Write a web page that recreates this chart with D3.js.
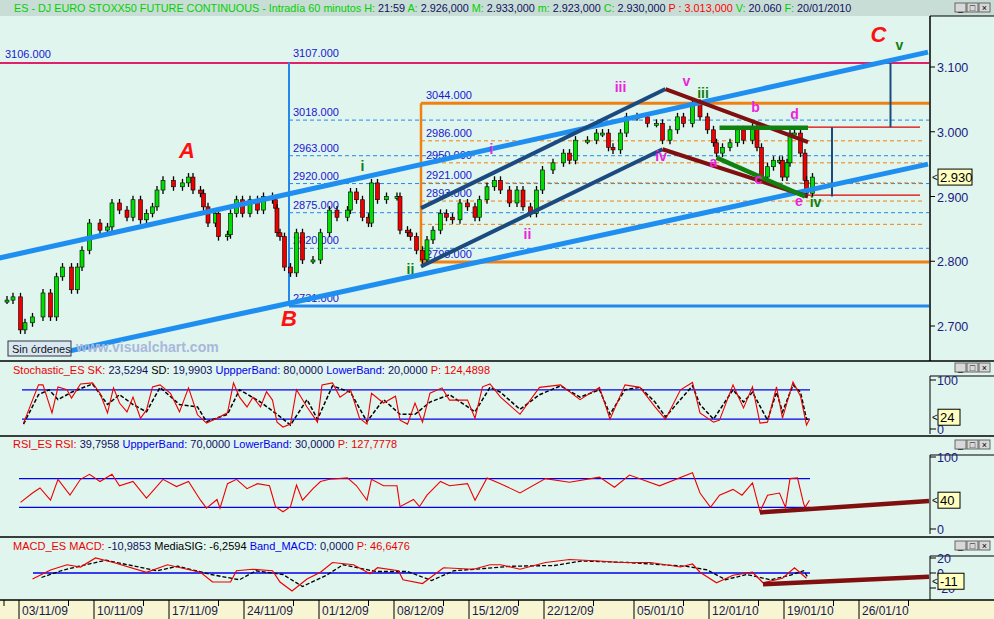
<!DOCTYPE html>
<html><head><meta charset="utf-8">
<script src="https://cdn.jsdelivr.net/npm/d3@7/dist/d3.min.js"></script>
<style>body{margin:0;background:#e0f5ee}svg{display:block;font-family:"Liberation Sans",Arial,sans-serif}</style>
</head><body><svg id="c" width="994" height="619"></svg>
<script>
// ---- data (time in trading days from 03/11/09) ----
const barDay=[-0.8,-0.4,0.1,0.4,0.9,1.6,2.1,2.5,2.9,3.5,3.9,4.2,4.7,5.4,5.9,6.2,6.7,7.2,7.6,8.1,8.5,8.9,9.2,9.6,10.3,10.9,11.3,11.6,12.1,12.3,12.6,13.1,13.3,13.9,14.1,14.5,14.9,15.4,15.9,16.3,16.9,17.1,17.2,17.4,17.7,18.1,18.5,18.9,19.6,20.1,20.7,21.2,21.9,22.1,22.5,22.9,23.3,23.5,23.9,24.5,25.2,25.4,25.9,26.1,26.5,26.9,27.2,27.6,28.1,28.5,28.9,29.4,29.9,30.4,30.7,31.2,31.7,32.1,32.7,33.2,33.6,34.1,34.5,34.9,35.6,36.3,36.7,37.1,37.9,38.5,38.9,39.3,39.6,40.1,40.5,41.2,41.9,42.5,42.9,43.4,43.9,44.3,44.9,45.4,45.9,46.3,46.5,46.9,47.4,47.9,48.3,48.9,49.2,49.5,49.9,50.3,50.7,50.9,51.2,51.4,51.7,52.1,52.4,52.5,52.9];
const barClose=[2740,2745,2694,2705,2714,2751,2714,2776,2791,2756,2791,2817,2859,2848,2853,2890,2879,2868,2895,2864,2874,2884,2910,2925,2915,2921,2930,2910,2905,2884,2859,2874,2838,2841,2874,2895,2874,2895,2879,2900,2895,2882,2844,2838,2791,2782,2844,2802,2802,2844,2879,2868,2879,2907,2895,2868,2859,2921,2895,2900,2900,2848,2844,2838,2817,2802,2833,2848,2874,2868,2864,2890,2884,2868,2895,2915,2925,2910,2890,2910,2884,2874,2910,2941,2952,2967,2956,2987,2987,2998,2998,2976,2972,2998,3023,3023,3013,3013,2987,3003,3023,3013,3044,3023,3003,2983,2967,2976,2983,3003,2987,3007,2976,2930,2946,2956,2956,2930,2952,2998,2998,2967,2925,2905,2930];
const stochDay=[0.3,0.9,1.3,1.6,2.2,2.6,3.2,3.5,4.1,4.9,5.4,5.9,6.3,6.7,7.2,7.6,8.1,8.5,8.9,9.4,10.1,10.7,11.3,11.9,12.5,13.2,13.9,14.3,14.7,15.2,15.6,16.1,16.5,16.9,17.2,17.6,18.1,18.5,19.2,19.9,20.2,20.9,21.4,22.1,22.7,23.2,23.5,24.3,25.1,25.4,25.9,26.4,26.9,27.4,28.2,28.7,29.9,30.4,30.9,31.4,32.1,33.4,34.7,36.1,37.4,38.7,39.4,40.4,41.4,42.4,43.1,44.1,44.9,45.4,46.3,46.7,47.6,48.3,48.9,49.4,49.9,50.5,50.9,51.6,52.1,52.5,52.7];
const stochSK=[12,59,90,90,33,86,80,63,92,94,73,33,84,53,35,65,22,39,86,90,73,35,84,29,12,22,33,94,65,45,65,45,76,59,14,4,10,80,45,14,90,94,65,80,22,10,73,53,67,18,10,53,14,73,84,59,59,22,86,92,65,30,85,90,60,85,20,90,85,45,20,80,95,33,14,18,90,43,86,12,14,86,22,96,67,8,20];
const sdPts=[[0.3,10],[1.3,70],[2.0,80],[2.6,60],[3.5,75],[4.9,92],[5.9,50],[6.7,70],[7.6,50],[8.5,35],[9.4,85],[10.7,50],[11.9,45],[12.5,15],[13.9,30],[14.7,80],[16.1,55],[17.2,30],[18.1,8],[19.2,60],[19.9,20],[20.9,88],[22.1,75],[23.2,15],[24.3,60],[25.4,30],[26.4,30],[27.4,55],[28.7,70],[30.4,35],[31.4,85],[32.1,75],[33.4,40],[34.7,70],[36.1,88],[37.4,65],[38.7,80],[39.4,30],[40.4,80],[41.4,85],[42.4,55],[43.1,25],[44.9,88],[45.4,50],[46.3,20],[47.6,80],[48.3,55],[48.9,75],[49.9,18],[50.5,75],[50.9,35],[51.6,90],[52.1,75],[52.5,20],[52.7,20]];
const rsiDay=[0.1,0.9,1.4,2.1,2.6,3.4,4.1,4.7,5.4,6.2,6.7,7.6,8.5,9.6,10.5,11.3,12.1,12.5,13.2,13.4,13.9,14.5,15.2,15.9,16.7,17.1,17.6,18.1,18.5,18.9,19.6,20.1,20.7,21.9,22.5,23.2,23.5,24.3,25.2,25.4,26.3,26.7,27.2,28.1,28.7,29.9,30.4,31.2,32.1,33.4,35.1,36.7,38.7,39.7,40.7,42.7,44.9,45.4,46.1,46.7,47.6,48.2,48.9,49.4,49.9,50.7,51.1,51.4,51.9,52.3,52.4,52.7];
const rsiVal=[37,50,57,40,69,47,69,76,66,76,60,66,43,69,59,66,40,29,41,29,63,69,56,63,60,31,24,31,61,40,56,66,69,71,60,40,69,60,60,31,41,31,47,66,60,63,40,71,63,50,70,65,72,58,75,60,78,50,30,47,55,47,64,24,47,50,30,70,71,36,30,40];
const macdDay=[0.9,2.1,3.2,4.1,5.1,6.3,8.5,9.9,11.2,12.1,12.9,14.1,14.5,15.6,16.9,17.4,18.2,19.2,20.1,20.9,22.3,23.4,23.9,25.3,25.6,26.9,28.3,30.3,31.4,32.1,33.4,35.1,36.7,38.7,40.1,42.1,44.1,44.9,45.4,46.5,47.6,48.9,49.6,50.9,51.7,52.5];
const macdVal=[-8,4,11,8,20,14,1,11,5,1,-12,-12,3,5,3,-12,-24,-8,1,14,11,-1,7,3,-9,-14,7,5,11,11,5,14,18,16,14,14,8,12,1,-13,-3,1,-13,-7,7,-7];
const sigPts=[[1.5,-6],[2.8,3],[4.0,9],[5.8,17],[7.0,12],[9.2,3],[10.6,9],[12.8,-2],[14.7,-9],[15.8,3],[17.6,-2],[18.9,-18],[20.5,-3],[21.6,11],[23.8,2],[25.9,2],[27.5,-10],[29.0,3],[31.0,6],[32.8,9],[35.7,10],[37.5,16],[40.6,14],[44.5,9],[45.9,4],[47.1,-9],[48.5,-2],[50.1,-9],[51.4,-3],[52.3,3],[52.6,-6]];
const dateLabels=["03/11/09","10/11/09","17/11/09","24/11/09","01/12/09","08/12/09","15/12/09","22/12/09","05/01/10","12/01/10","19/01/10","26/01/10"];
const dateDay=[0,5,10,15,20,25,30,35,41,46,51,56];
const priceTicks=[2700,2800,2900,3000,3100];
const blueLevels=[3018,2963,2920,2875,2820];
const blueLabels=["3018.000","2963.000","2920.000","2875.000","2820.000"];
const orangeLevels=[2986,2952,2921,2893,2857];
const orangeLabels=["2986.000","2950.000","2921.000","2893.000",""];
const lightBlueLines=[[-1.3,2805,60.6,3123],[3.1,2660,60.6,2950]];
const navyLines=[[26.8,2882,43.1,3066],[26.8,2792,42.9,2973]];
const brownLines=[[43.1,3066,52.6,2984],[42.9,2973,52.6,2900]];
const greenLines=[[46.7,3006,52.6,3006],[46.5,2960,52.4,2900]];
const waveRed=[["A",11.2,2960],["B",18.0,2700],["C",57.3,3138]];
const waveGreen=[["v",58.7,3126],["i",22.9,2940],["ii",26.1,2781],["iii",45.6,3052],["iv",53.1,2884]];
const waveMag=[["iii",40.1,3061],["v",44.5,3070],["i",31.5,2966],["ii",33.9,2835],["iv",42.8,2955],["a",46.3,2945],["b",49.1,3030],["c",49.3,2920],["d",51.7,3019],["e",52.0,2885]];

const svg=d3.select("#c");
const x=d3.scaleLinear().domain([0,1]).range([19,34]);
const y=d3.scaleLinear().domain([2700,3100]).range([326,67]);
const yS=d3.scaleLinear().domain([0,100]).range([429,380]);
const yR=d3.scaleLinear().domain([0,100]).range([529,457]);
const yM=d3.scaleLinear().domain([-20,20]).range([588,558]);
const W=929;
svg.append("rect").attr("width",994).attr("height",619).attr("fill","#e0f5ee");
svg.append("rect").attr("width",994).attr("height",16).attr("fill","#c8ddd5");
svg.append("rect").attr("y",600).attr("width",994).attr("height",19).attr("fill","#f7f5d2");
const hd=svg.append("text").attr("x",14).attr("y",12).attr("font-size",10.8);
[["ES - DJ EURO STOXX50 FUTURE CONTINUOUS - Intradía 60 minutos ","#00d000"],["H: ","#00d000"],["21:59 ","#101060"],["A: ","#00d000"],["2.926,000 ","#101060"],["M: ","#00d000"],["2.933,000 ","#101060"],["m: ","#00d000"],["2.923,000 ","#101060"],["C: ","#00d000"],["2.930,000 ","#101060"],["P : 3.013,000 ","#ff0000"],["V: ","#00d000"],["20.060 ","#101060"],["F: ","#00d000"],["20/01/2010","#101060"]].forEach(t=>hd.append("tspan").attr("fill",t[1]).attr("xml:space","preserve").text(t[0]));
function btns(yy){[955,967,979].forEach((bx,i)=>{svg.append("rect").attr("x",bx).attr("y",yy).attr("width",11).attr("height",9).attr("fill","#d8d8d8").attr("stroke","#666");
 svg.append("text").attr("x",bx+5.5).attr("y",yy+8).attr("text-anchor","middle").attr("font-size",9).attr("fill","#000").text(["_","□","×"][i]);});}
btns(3);btns(363);btns(440);btns(541);
[361,436,537,600].forEach(v=>svg.append("line").attr("x1",0).attr("x2",994).attr("y1",v).attr("y2",v).attr("stroke","#000").attr("stroke-width",1.5));
svg.append("line").attr("x1",930).attr("x2",930).attr("y1",16).attr("y2",361).attr("stroke","#000").attr("stroke-width",1.5);
svg.append("line").attr("x1",930).attr("x2",994).attr("y1",16).attr("y2",16).attr("stroke","#000");
[[376,434],[455,534],[556,600]].forEach(r=>{svg.append("line").attr("x1",930).attr("x2",930).attr("y1",r[0]).attr("y2",r[1]).attr("stroke","#000");
 svg.append("line").attr("x1",930).attr("x2",994).attr("y1",r[0]).attr("y2",r[0]).attr("stroke","#000");});
priceTicks.forEach(p=>{svg.append("line").attr("x1",930).attr("x2",935).attr("y1",y(p)).attr("y2",y(p)).attr("stroke","#000");
 svg.append("text").attr("x",937).attr("y",y(p)+5).attr("font-size",12.5).attr("fill","#1a1a80").text(d3.format(".3f")(p/1000));});
svg.append("line").attr("x1",0).attr("x2",W).attr("y1",y(3106)).attr("y2",y(3106)).attr("stroke","#e0206a").attr("stroke-width",2);
svg.append("text").attr("x",5).attr("y",y(3106)-5).attr("font-size",11).attr("fill","#1818d0").text("3106.000");
const bx0=x(18.0);
svg.append("line").attr("x1",bx0).attr("x2",bx0).attr("y1",y(3107)).attr("y2",y(2731)).attr("stroke","#2288ee").attr("stroke-width",2);
svg.append("line").attr("x1",bx0).attr("x2",W).attr("y1",y(2731)).attr("y2",y(2731)).attr("stroke","#2288ee").attr("stroke-width",3);
svg.append("text").attr("x",bx0+4).attr("y",y(3107)-5).attr("font-size",11).attr("fill","#1818d0").text("3107.000");
svg.append("text").attr("x",bx0+4).attr("y",y(2731)-4).attr("font-size",11).attr("fill","#1818d0").text("2731.000");
blueLevels.forEach((p,i)=>{svg.append("line").attr("x1",bx0).attr("x2",W).attr("y1",y(p)).attr("y2",y(p)).attr("stroke","#2288ee").attr("stroke-dasharray","4,3");
 svg.append("text").attr("x",bx0+4).attr("y",y(p)-4).attr("font-size",11).attr("fill","#1818d0").text(blueLabels[i]);});
const ox0=x(26.8);
svg.append("line").attr("x1",ox0).attr("x2",ox0).attr("y1",y(3044)).attr("y2",y(2799)).attr("stroke","#f08010").attr("stroke-width",2.5);
[3044,2799].forEach((p,i)=>{svg.append("line").attr("x1",ox0).attr("x2",W).attr("y1",y(p)).attr("y2",y(p)).attr("stroke","#f08010").attr("stroke-width",3);
 svg.append("text").attr("x",ox0+5).attr("y",y(p)-4).attr("font-size",11).attr("fill","#1818d0").text(i?"2798.000":"3044.000");});
orangeLevels.forEach((p,i)=>{svg.append("line").attr("x1",ox0).attr("x2",W-5).attr("y1",y(p)).attr("y2",y(p)).attr("stroke","#f08010").attr("stroke-dasharray","4,3");
 if(orangeLabels[i])svg.append("text").attr("x",ox0+5).attr("y",y(p)-4).attr("font-size",11).attr("fill","#1818d0").text(orangeLabels[i]);});
[3007,2902].forEach(p=>svg.append("line").attr("x1",x(52.6)).attr("x2",920).attr("y1",y(p)).attr("y2",y(p)).attr("stroke","#e00000").attr("stroke-width",1.2));
svg.append("line").attr("x1",x(54.2)).attr("x2",x(54.2)).attr("y1",y(3007)).attr("y2",y(2900)).attr("stroke","#1a4a80").attr("stroke-width",2);
svg.append("line").attr("x1",x(58.1)).attr("x2",x(58.1)).attr("y1",y(3106)).attr("y2",y(3007)).attr("stroke","#1a4a80").attr("stroke-width",2);
const g=svg.append("g");
barClose.forEach((c,i)=>{const o=i?barClose[i-1]:c;const xx=x(barDay[i]);
 const hi=Math.min(y(o),y(c))-4,lo=Math.max(y(o),y(c))+4;
 g.append("line").attr("x1",xx).attr("x2",xx).attr("y1",hi).attr("y2",lo).attr("stroke","#000").attr("stroke-width",1.3);
 g.append("rect").attr("x",xx-2).attr("width",4).attr("y",Math.min(y(o),y(c))).attr("height",Math.max(2,Math.abs(y(o)-y(c)))).attr("fill",c>=o?"#00dd00":"#ee0000").attr("stroke","#000").attr("stroke-width",0.6);});
function tl(arr,col,w){arr.forEach(l=>svg.append("line").attr("x1",x(l[0])).attr("y1",y(l[1])).attr("x2",x(l[2])).attr("y2",y(l[3])).attr("stroke",col).attr("stroke-width",w));}
tl(lightBlueLines,"#1e8ef0",5);tl(navyLines,"#1a4a80",4);tl(brownLines,"#801010",4);tl(greenLines,"#108010",4.5);
waveRed.forEach(w=>svg.append("text").attr("x",x(w[1])).attr("y",y(w[2])).attr("text-anchor","middle").attr("font-size",22).attr("font-weight","bold").attr("font-style","italic").attr("fill","#ff1010").text(w[0]));
waveGreen.forEach(w=>svg.append("text").attr("x",x(w[1])).attr("y",y(w[2])).attr("text-anchor","middle").attr("font-size",14).attr("font-weight","bold").attr("fill","#108010").text(w[0]));
waveMag.forEach(w=>svg.append("text").attr("x",x(w[1])).attr("y",y(w[2])).attr("text-anchor","middle").attr("font-size",14).attr("font-weight","bold").attr("fill","#ee22dd").text(w[0]));
function vbox(yy,t,w){svg.append("text").attr("x",932).attr("y",yy+4).attr("font-size",10).text("<");
 svg.append("rect").attr("x",938).attr("y",yy-8).attr("width",w).attr("height",16).attr("fill","#ffffc0").attr("stroke","#000");
 svg.append("text").attr("x",940).attr("y",yy+5).attr("font-size",13).attr("fill","#000").text(t);}
svg.append("rect").attr("x",8).attr("y",341).attr("width",63).attr("height",15).attr("fill","#d8e8f0").attr("stroke","#334");
svg.append("text").attr("x",12).attr("y",353).attr("font-size",11).attr("fill","#112").text("Sin órdenes");
svg.append("text").attr("x",76).attr("y",352).attr("font-size",14).attr("font-weight","bold").attr("fill","#a8b8dc").text("www.visualchart.com");
function title(yy,parts){const t=svg.append("text").attr("x",13).attr("y",yy).attr("font-size",11);parts.forEach(p=>t.append("tspan").attr("fill",p[1]).attr("xml:space","preserve").text(p[0]));}
title(374,[["Stochastic_ES SK: ","#ee0000"],["23,5294 ","#101060"],["SD: ","#000"],["19,9903 ","#101060"],["UppperBand: ","#0000ee"],["80,0000 ","#101060"],["LowerBand: ","#0000ee"],["20,0000 ","#101060"],["P: 124,4898","#ee0000"]]);
title(448,[["RSI_ES RSI: ","#ee0000"],["39,7958 ","#101060"],["UppperBand: ","#0000ee"],["70,0000 ","#101060"],["LowerBand: ","#0000ee"],["30,0000 ","#101060"],["P: 127,7778","#ee0000"]]);
title(550,[["MACD_ES MACD: ","#ee0000"],["-10,9853 ","#101060"],["MediaSIG: -6,2594 ","#000"],["Band_MACD: ","#0000ee"],["0,0000 ","#101060"],["P: 46,6476","#ee0000"]]);
function subAxis(sc,vals){vals.forEach(v=>{svg.append("line").attr("x1",930).attr("x2",936).attr("y1",sc(v)).attr("y2",sc(v)).attr("stroke","#000");
 svg.append("text").attr("x",937).attr("y",sc(v)+5).attr("font-size",12.5).attr("fill","#1a1a80").text(v);});}
subAxis(yS,[100,0]);subAxis(yR,[100,0]);subAxis(yM,[20,0,-20]);
function hline(yy,x1,x2){svg.append("line").attr("x1",x1).attr("x2",x2).attr("y1",yy).attr("y2",yy).attr("stroke","#0000ee").attr("stroke-width",1.3);}
hline(yS(80),22,810);hline(yS(20),22,810);hline(yR(70),19,810);hline(yR(30),19,810);hline(yM(0),33,810);
const ln=(sc)=>d3.line().x(d=>x(d[0])).y(d=>sc(d[1]));
svg.append("path").attr("d",ln(yS)(sdPts)).attr("fill","none").attr("stroke","#000").attr("stroke-width",1.5).attr("stroke-dasharray","4,2");
svg.append("path").attr("d",ln(yS)(stochDay.map((d,i)=>[d,stochSK[i]]))).attr("fill","none").attr("stroke","#ee0000").attr("stroke-width",1.1);
svg.append("path").attr("d",ln(yR)(rsiDay.map((d,i)=>[d,rsiVal[i]]))).attr("fill","none").attr("stroke","#ee0000").attr("stroke-width",1.1);
svg.append("path").attr("d",ln(yM)(sigPts)).attr("fill","none").attr("stroke","#000").attr("stroke-width",1.3).attr("stroke-dasharray","4,2");
svg.append("path").attr("d",ln(yM)(macdDay.map((d,i)=>[d,macdVal[i]]))).attr("fill","none").attr("stroke","#ee0000").attr("stroke-width",1.2);
svg.append("line").attr("x1",x(49.4)).attr("y1",yR(23)).attr("x2",W).attr("y2",yR(39)).attr("stroke","#801010").attr("stroke-width",4.5);
svg.append("line").attr("x1",x(49.6)).attr("y1",yM(-15)).attr("x2",W).attr("y2",yM(-5)).attr("stroke","#801010").attr("stroke-width",4.5);
vbox(y(2930),"2.930",34);vbox(yS(24),"24",22);vbox(yR(40),"40",22);vbox(yM(-11),"-11",26);
const xa=svg.append("g");
dateDay.forEach((d,i)=>{xa.append("line").attr("x1",x(d)).attr("x2",x(d)).attr("y1",600).attr("y2",619).attr("stroke","#000");
 xa.append("text").attr("x",x(d)+3).attr("y",615).attr("font-size",12).attr("fill","#1a1a50").text(dateLabels[i]);
 xa.append("line").attr("x1",x(d+3.3)).attr("x2",x(d+3.3)).attr("y1",600).attr("y2",606).attr("stroke","#000");});
xa.append("line").attr("x1",4).attr("x2",4).attr("y1",600).attr("y2",606).attr("stroke","#000");
</script></body></html>
